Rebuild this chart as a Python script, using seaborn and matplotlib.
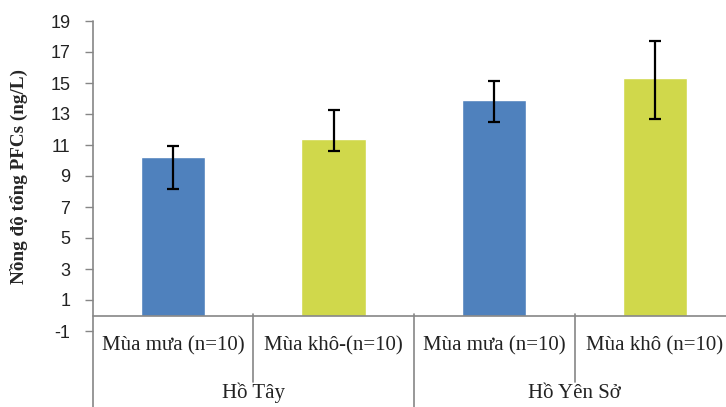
import matplotlib
matplotlib.use("Agg")
import matplotlib.pyplot as plt
import matplotlib.transforms as mtransforms
from matplotlib.lines import Line2D
import pandas as pd
import seaborn as sns

# donnees
nhan_mua = ["Mùa mưa (n=10)", "Mùa khô-(n=10)", "Mùa mưa (n=10)", "Mùa khô (n=10)"]
mua = ["mưa", "khô", "mưa", "khô"]
ho = ["Hồ Tây", "Hồ Yên Sở"]
gia_tri = [10.2, 11.4, 13.9, 15.3]
sai_so_tren = [0.75, 1.85, 1.2, 2.4]
sai_so_duoi = [2.05, 0.8, 1.4, 2.6]
y_ticks = list(range(-1, 20, 2))

MAU = {"mưa": "#4F81BD", "khô": "#D0D84B"}
XAM = "#868686"
SERIF = ["Liberation Serif", "DejaVu Serif"]

sns.set_style("white")
plt.rcParams["font.family"] = ["Liberation Sans", "DejaVu Sans"]

df = pd.DataFrame({"vi_tri": [str(i) for i in range(4)], "gia_tri": gia_tri, "mua": mua})

fig = plt.figure(figsize=(7.26, 4.07), dpi=100)
W, H = 726, 407
left, right, top, bottom = 92.5, 735.3, 21, 331
ax = fig.add_axes([left / W, (H - bottom) / H, (right - left) / W, (bottom - top) / H])

sns.barplot(data=df, x="vi_tri", y="gia_tri", hue="mua", palette=MAU, width=0.4,
            dodge=False, legend=False, saturation=1, ax=ax)
ax.errorbar(range(4), gia_tri, yerr=[sai_so_duoi, sai_so_tren], fmt="none",
            ecolor="black", elinewidth=1.6, capsize=4.5, capthick=1.6, zorder=5)

ax.set_ylim(-1, 19)
ax.set_xlim(-0.5, 3.5)
ax.set_yticks(y_ticks)
ax.set_yticklabels([str(t) for t in y_ticks], fontsize=13, color="#222222")
ax.set_xticks([])
ax.set_xlabel("")
ax.set_ylabel("Nồng độ tổng PFCs (ng/L)", fontsize=13.8, fontweight="bold",
              family=SERIF, labelpad=16)
ax.tick_params(axis="y", direction="out", length=6, width=1, color=XAM, pad=10, left=True)
for s in ax.spines.values():
    s.set_visible(False)
ax.axhline(0, color=XAM, lw=1.2, zorder=1, clip_on=False)

# truc doc keo dai xuong duoi
fig.add_artist(Line2D([left / W, left / W], [0, (H - top) / H], color=XAM, lw=1.2))

# nhan phan cap duoi truc
blend = mtransforms.blended_transform_factory(ax.transData, fig.transFigure)
for i, nhan in enumerate(nhan_mua):
    fig.text(i, (H - 346) / H, nhan, transform=blend, ha="center", va="center",
             fontsize=15, family=SERIF, color="#222222")
for j, ten in enumerate(ho):
    fig.text(2 * j + 0.5, (H - 393) / H, ten, transform=blend, ha="center", va="center",
             fontsize=15, family=SERIF, color="#222222")
y0 = (H - 314) / H
for xs, y1 in [(0.5, (H - 382) / H), (1.5, 0), (2.5, (H - 382) / H)]:
    fig.add_artist(Line2D([xs, xs], [y0, y1], transform=blend, color=XAM, lw=1.2))

fig.savefig("out.png", dpi=100)
